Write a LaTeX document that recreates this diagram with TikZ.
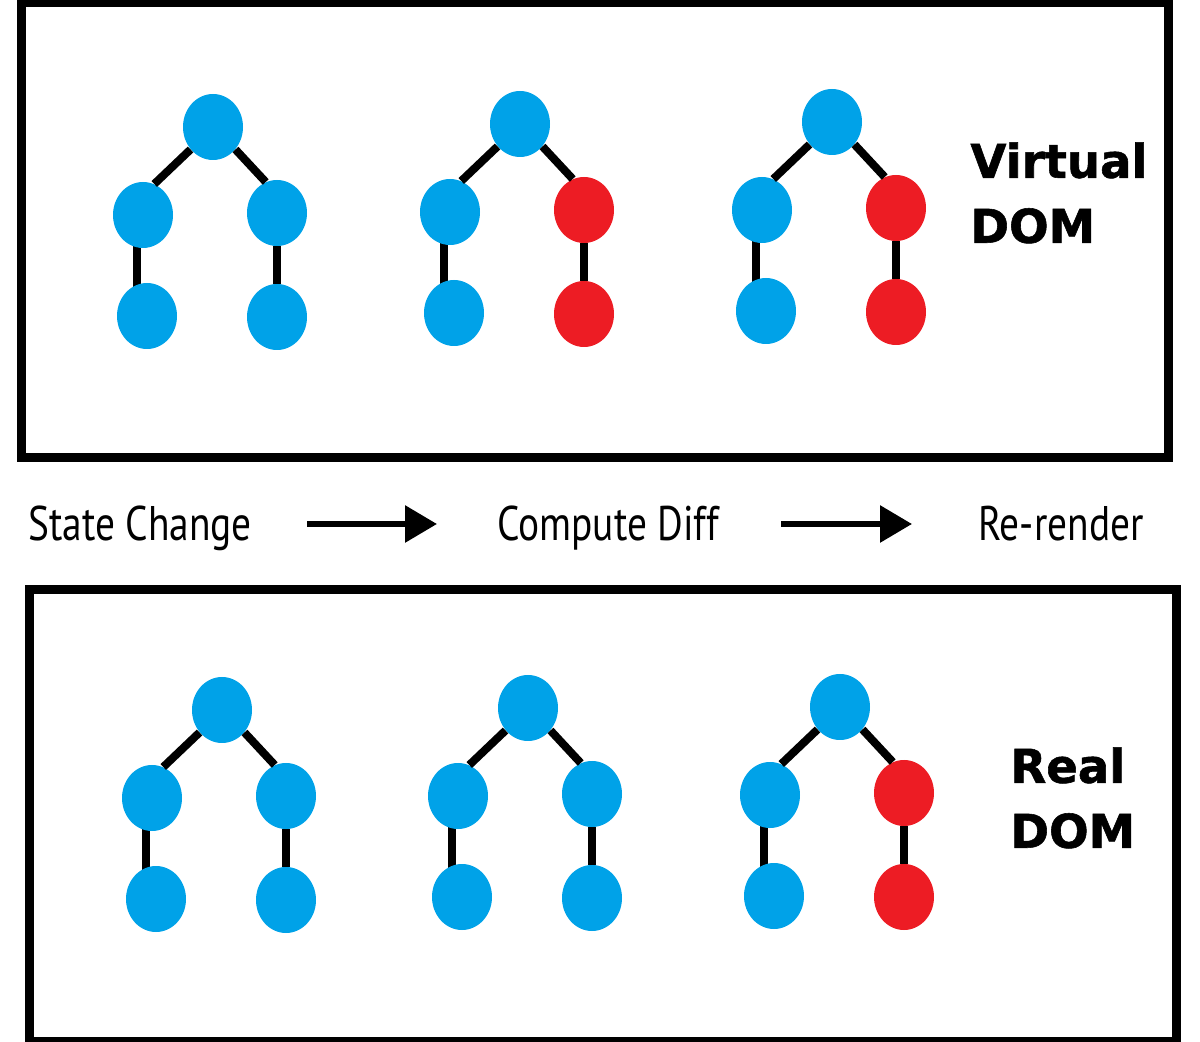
\documentclass[tikz,border=0pt]{standalone}
\usepackage{fontspec}
\usetikzlibrary{arrows.meta,shapes.geometric,backgrounds}

\newfontfamily\domfont[BoldFeatures={FakeBold=1.2}]{DejaVu Sans}
\newfontfamily\flowfont[FakeStretch=0.81]{PT Sans}

\definecolor{paintblau}{RGB}{0,162,232}
\definecolor{paintrot}{RGB}{237,28,36}

\tikzset{
  knoten/.style={ellipse, minimum width=30pt, minimum height=33pt, inner sep=0pt, fill=#1},
  knoten/.default=paintblau,
  kante/.style={line width=4pt},
  kasten/.style={line width=4.5pt},
  fluss/.style={-{Triangle[length=16pt,width=18pt]}, line width=3pt},
  schritt/.style={font=\flowfont\fontsize{24.3}{28}\selectfont, inner sep=0pt,
    text height=17pt, text depth=0pt, anchor=base west},
  dom/.style={font=\domfont\bfseries\fontsize{23.3}{32.5}\selectfont, align=left,
    inner sep=0pt, anchor=north west},
}

\begin{document}
\begin{tikzpicture}[x=0.5pt,y=-0.5pt]
    \useasboundingbox (0,0) rectangle (1200,1042);
    \clip (0,0) rectangle (1200,1042);

    % Rahmen
    \draw[kasten] (21.5,2.5) rectangle (1168,457.5);
    \draw[kasten] (29.5,589.5) rectangle (1176.5,1041.5);

    % Baeume (oben: Virtual DOM, unten: Real DOM)
    \foreach \i/\x/\y/\farbe in {a/213/127/paintblau, b/520/124/paintrot, c/832/122/paintrot,
                                 d/222/710/paintblau, e/528/708/paintblau, f/840/707/paintrot} {
      \node[knoten] (w\i) at (\x,\y) {};
      \node[knoten] (l\i) at (\x-70,\y+88) {};
      \node[knoten=\farbe] (r\i) at (\x+64,\y+86) {};
      \node[knoten] (ll\i) at (\x-66,\y+189) {};
      \node[knoten=\farbe] (rl\i) at (\x+64,\y+190) {};
      \draw[kante] (w\i.225) -- (l\i.70);
      \draw[kante] (w\i.-45) -- (r\i.110);
      \begin{pgfonlayer}{background}
        \draw[kante] ([xshift=-3pt]l\i.center) -- ([xshift=-3pt]l\i.center |- ll\i.center);
        \draw[kante] (r\i) -- (rl\i);
      \end{pgfonlayer}
    }

    % Beschriftung
    \node[dom] (virtuell) at (970,142) {Virtual\\DOM};
    \node[dom] (real) at (1010,747) {Real\\DOM};

    % Ablauf
    \node[schritt] (state) at (28,541) {State Change};
    \node[schritt] (diff) at (497,541) {Compute Diff};
    \node[schritt] (render) at (978,541) {Re-render};
    \draw[fluss, shorten <=27.5pt, shorten >=30pt] (state) -- (diff);
    \draw[fluss, shorten <=31pt, shorten >=33pt] (diff) -- (render);
  \end{tikzpicture}
\end{document}
